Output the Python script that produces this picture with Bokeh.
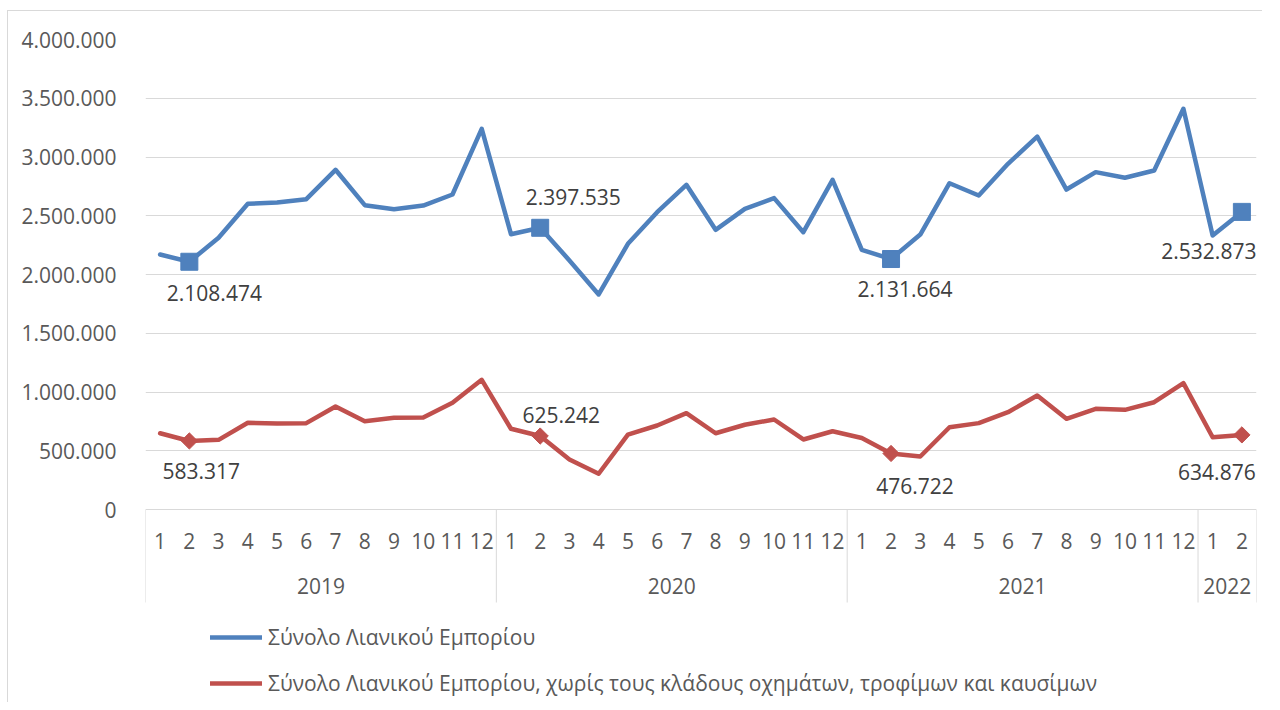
import math
from bokeh.plotting import figure
from bokeh.models import (Range1d, FixedTicker, LabelSet, ColumnDataSource,
                          Legend, LegendItem)
from bokeh.core.properties import value
from bokeh.embed import file_html
from bokeh.resources import INLINE

# ---------------- data ----------------
years = ["2019", "2020", "2021", "2022"]
months_per_year = [12, 12, 12, 2]
month_labels = [str(m) for n in months_per_year for m in range(1, n + 1)]

total_retail = [2170000, 2108474, 2312000, 2602000, 2613000, 2641000, 2891000, 2590000,
                2556000, 2587000, 2681000, 3240000,
                2343000, 2397535, 2120000, 1830000, 2261000, 2530000, 2763000, 2380000,
                2559000, 2650000, 2360000, 2806000,
                2210000, 2131664, 2340000, 2777000, 2672000, 2942000, 3174000, 2723000,
                2871000, 2823000, 2885000, 3410000,
                2332000, 2532873]

retail_excl = [649000, 583317, 593000, 738000, 732000, 735000, 877000, 752000,
               780000, 783000, 908000, 1104000,
               687000, 625242, 426000, 304000, 638000, 715000, 820000, 649000,
               721000, 766000, 596000, 666000,
               608000, 476722, 451000, 700000, 735000, 828000, 970000, 772000,
               857000, 848000, 913000, 1075000,
               615000, 634876]

y_ticks = [0, 500000, 1000000, 1500000, 2000000, 2500000, 3000000, 3500000, 4000000]

series_names = ["Σύνολο Λιανικού Εμπορίου",
                "Σύνολο Λιανικού Εμπορίου, χωρίς τους κλάδους οχημάτων, τροφίμων και καυσίμων"]

# ---------------- styling / layout ----------------
FONT = "Open Sans"
BLUE = "#4F81BD"
RED = "#C0504D"
GRID = "#D9D9D9"
TXT = "#595959"
LBL = "#404040"

W, H = 1255, 692
FRAME_LEFT, FRAME_RIGHT_PAD, FRAME_TOP = 137, 7, 28
PLOT_PX = 470                       # pixels for 0..4.000.000
frame_h = H - FRAME_TOP
px_per_unit = PLOT_PX / y_ticks[-1]
y_min = -(frame_h - PLOT_PX) / px_per_unit

n = len(month_labels)
xs = [i + 0.5 for i in range(n)]

def fmt(v):
    return f"{v:,}".replace(",", ".")

p = figure(width=W, height=H, output_backend="svg", toolbar_location=None,
           title=None, x_axis_location=None,
           x_range=Range1d(0, n), y_range=Range1d(y_min, y_ticks[-1]),
           min_border_left=FRAME_LEFT, min_border_right=FRAME_RIGHT_PAD,
           min_border_top=FRAME_TOP, min_border_bottom=0)
p.styles = {"margin-left": "7px", "margin-top": "10px",
            "border-left": f"1px solid {GRID}", "border-top": f"1px solid {GRID}"}
p.outline_line_color = None
p.background_fill_color = "white"
p.border_fill_color = "white"

tick = FixedTicker(ticks=y_ticks)
p.yaxis.ticker = tick
p.yaxis.major_label_overrides = {t: fmt(t) for t in y_ticks}
p.yaxis.axis_line_color = None
p.yaxis.major_tick_line_color = None
p.yaxis.minor_tick_line_color = None
p.yaxis.major_label_standoff = 23
p.yaxis.major_label_text_font = FONT
p.yaxis.major_label_text_font_size = "21px"
p.yaxis.major_label_text_color = TXT

p.xgrid.visible = False
p.ygrid.ticker = tick
p.ygrid.grid_line_color = GRID
p.ygrid.grid_line_width = 1

# category table: separators, month labels, year labels
bounds = [0]
for c in months_per_year:
    bounds.append(bounds[-1] + c)
p.ray(x=bounds, y=[0] * len(bounds), length=93, length_units="screen",
      angle=-math.pi / 2, line_color=GRID, line_width=1)

p.text(x=xs, y=[0] * n, text=month_labels, y_offset=31,
       text_align="center", text_baseline="middle",
       text_font=value(FONT), text_font_size="21px", text_color=TXT)

year_x = [bounds[i] + months_per_year[i] / 2 for i in range(len(years))]
p.text(x=year_x, y=[0] * len(years), text=years, y_offset=76,
       text_align="center", text_baseline="middle",
       text_font=value(FONT), text_font_size="21px", text_color=TXT)

# lines
src = ColumnDataSource(dict(x=xs, blue=total_retail, red=retail_excl))
lb = p.line("x", "blue", source=src, line_color=BLUE, line_width=4.5,
            line_join="round", line_cap="round")
lr = p.line("x", "red", source=src, line_color=RED, line_width=4.5,
            line_join="round", line_cap="round")

# highlighted points (February of each year)
idx = [i for i, m in enumerate(month_labels) if m == "2"]
mk = ColumnDataSource(dict(
    x=[xs[i] for i in idx],
    blue=[total_retail[i] for i in idx],
    red=[retail_excl[i] for i in idx],
    blue_txt=[fmt(total_retail[i]) for i in idx],
    red_txt=[fmt(retail_excl[i]) for i in idx],
    bdx=[25, 33, 14, -33], bdy=[-31, 31, -30, -39],
    rdx=[12, 21, 24, -25], rdy=[-30, 21, -33, -37],
))
p.scatter("x", "blue", source=mk, marker="square", size=17,
          fill_color=BLUE, line_color=BLUE)
p.scatter("x", "red", source=mk, marker="square", angle=math.pi / 4, size=11.5,
          fill_color=RED, line_color=RED)

for ycol, tcol, dx, dy in [("blue", "blue_txt", "bdx", "bdy"),
                           ("red", "red_txt", "rdx", "rdy")]:
    p.add_layout(LabelSet(x="x", y=ycol, text=tcol, source=mk,
                          x_offset=dx, y_offset=dy,
                          text_align="center", text_baseline="middle",
                          text_font=value(FONT), text_font_size="21px",
                          text_color=LBL))

legend = Legend(items=[LegendItem(label=series_names[0], renderers=[lb]),
                       LegendItem(label=series_names[1], renderers=[lr])],
                location=(65, 5), orientation="vertical",
                border_line_color=None, background_fill_alpha=0,
                padding=0, margin=0, spacing=16,
                glyph_width=52, glyph_height=30, label_height=30, label_standoff=6,
                label_text_font=FONT, label_text_font_size="21px",
                label_text_color=TXT)
p.add_layout(legend)

open("out.html", "w").write(file_html(p, INLINE))
